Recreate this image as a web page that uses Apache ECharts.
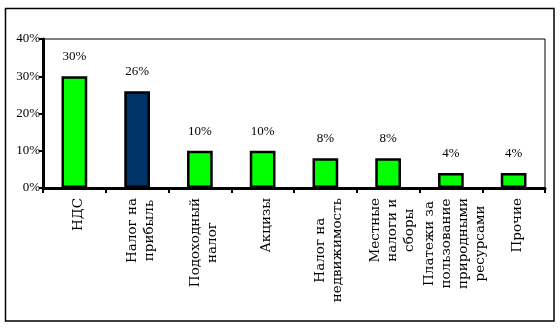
<!DOCTYPE html>
<html>
<head>
<meta charset="utf-8">
<script src="https://cdn.jsdelivr.net/npm/echarts@6/dist/echarts.min.js"></script>
<style>
  html, body { margin: 0; padding: 0; background: #fff; }
  #chart { width: 560px; height: 329px; }
</style>
</head>
<body>
<div id="chart"></div>
<script>
// Tax structure: share of each tax in revenue, percent
const categories = [
  'НДС',
  'Налог на\nприбыль',
  'Подоходный\nналог',
  'Акцизы',
  'Налог на\nнедвижимость',
  'Местные\nналоги и\nсборы',
  'Платежи за\nпользование\nприродными\nресурсами',
  'Прочие'
];
const shares = [30, 26, 10, 10, 8, 8, 4, 4];
const highlightIndex = 1; // profit tax drawn in dark blue
const yTicks = { min: 0, max: 40, step: 10 };

const SERIF = '"Liberation Serif", "Times New Roman", serif';
const WIDE_SERIF = '"DejaVu Serif", serif';

const chart = echarts.init(document.getElementById('chart'), null, { renderer: 'canvas' });

chart.setOption({
  animation: false,
  backgroundColor: '#ffffff',
  graphic: [{
    type: 'rect',
    shape: { x: 5.5, y: 8.5, width: 548.5, height: 312.5 },
    style: { fill: 'none', stroke: '#000', lineWidth: 1.5 },
    silent: true
  }],
  grid: {
    left: 43, top: 39, right: 15, bottom: 141,
    show: true, borderColor: '#000', borderWidth: 1, backgroundColor: 'transparent'
  },
  xAxis: {
    type: 'category',
    data: categories,
    axisLine: { lineStyle: { color: '#000', width: 3 } },
    axisTick: { show: true, length: 5, lineStyle: { color: '#000', width: 2 } },
    axisLabel: {
      interval: 0,
      rotate: 90,
      margin: 10,
      color: '#000',
      fontFamily: WIDE_SERIF,
      fontSize: 13.5,
      lineHeight: 17,
      padding: [8, 0, 0, 0],
      formatter: function (v) {
        return v.split('\n').map(function (s) { return '{c|' + s + '}'; }).join('\n');
      },
      rich: {
        c: { align: 'center', fontFamily: WIDE_SERIF, fontSize: 13.5, lineHeight: 17, color: '#000' }
      }
    }
  },
  yAxis: {
    type: 'value',
    min: yTicks.min,
    max: yTicks.max,
    interval: yTicks.step,
    axisLine: { show: true, lineStyle: { color: '#000', width: 3 } },
    axisTick: { show: true, length: 4, lineStyle: { color: '#000', width: 2 } },
    splitLine: { show: false },
    axisLabel: {
      margin: 3,
      color: '#000',
      fontFamily: SERIF,
      fontSize: 13,
      formatter: '{value}%'
    }
  },
  series: [{
    type: 'bar',
    barWidth: '41%',
    data: shares.map(function (v, i) {
      return {
        value: v,
        itemStyle: { color: i === highlightIndex ? '#003366' : '#00ff00' }
      };
    }),
    itemStyle: { borderColor: '#000', borderWidth: 2.5 },
    label: {
      show: true,
      position: 'top',
      distance: 13,
      color: '#000',
      fontFamily: SERIF,
      fontSize: 13,
      formatter: '{c}%'
    }
  }]
});
</script>
</body>
</html>
